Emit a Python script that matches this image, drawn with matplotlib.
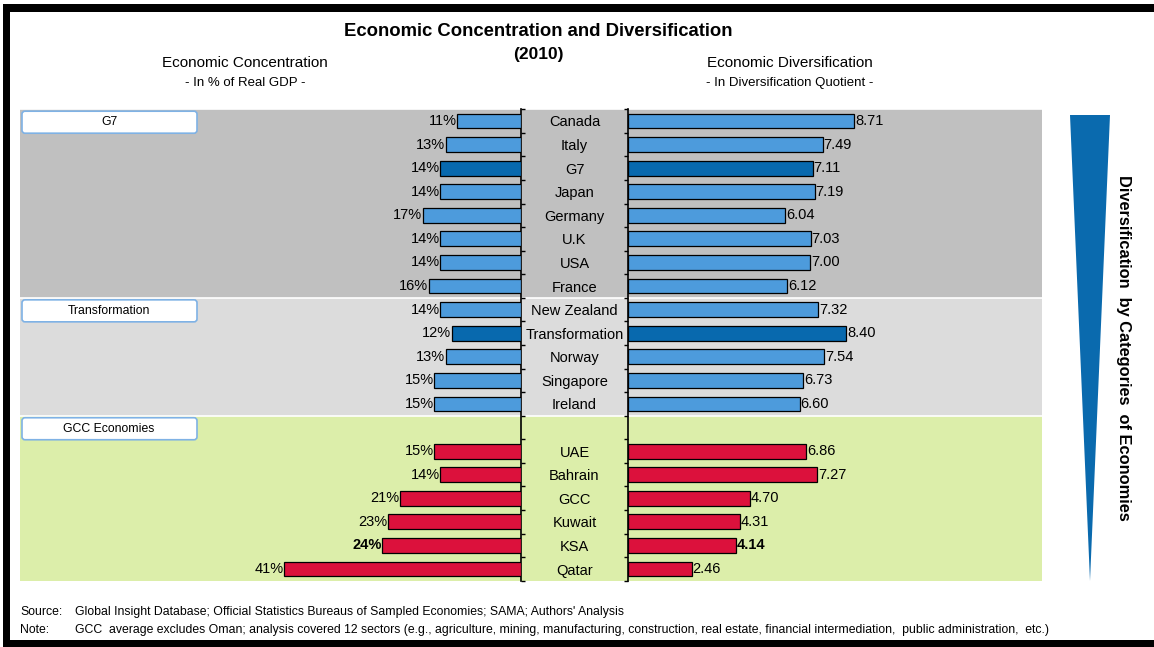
import matplotlib
matplotlib.use("Agg")
import matplotlib.pyplot as plt
from matplotlib.patches import Rectangle, FancyBboxPatch, Polygon
import numpy as np

# values (2010)
countries = ["Canada", "Italy", "G7", "Japan", "Germany", "U.K", "USA", "France",
             "New Zealand", "Transformation", "Norway", "Singapore", "Ireland",
             "UAE", "Bahrain", "GCC", "Kuwait", "KSA", "Qatar"]
concentration = [11, 13, 14, 14, 17, 14, 14, 16,
                 14, 12, 13, 15, 15,
                 15, 14, 21, 23, 24, 41]
diversification = [8.71, 7.49, 7.11, 7.19, 6.04, 7.03, 7.00, 6.12,
                   7.32, 8.40, 7.54, 6.73, 6.60,
                   6.86, 7.27, 4.70, 4.31, 4.14, 2.46]
groups = ["G7"] * 8 + ["Transformation"] * 5 + ["GCC Economies"] * 6
group_names = ["G7", "Transformation", "GCC Economies"]
averages = ["G7", "Transformation"]
bold_rows = ["KSA"]

LIGHT_BLUE = "#4D9BDC"
DARK_BLUE = "#0869AE"
RED = "#DC113C"
BAND = {"G7": "#C0C0C0", "Transformation": "#DCDCDC", "GCC Economies": "#DCEEAA"}
plt.rcParams["font.family"] = ["Liberation Sans", "DejaVu Sans"]

W, H = 1154, 647
fig = plt.figure(figsize=(W / 100, H / 100), dpi=100)

# pixel-space canvas for decorations
bg = fig.add_axes([0, 0, 1, 1])
bg.set_xlim(0, W)
bg.set_ylim(H, 0)
bg.axis("off")

# row positions: the GCC block has one empty row for its label box
rows = []
r = 0
prev = None
for g in groups:
    if g != prev and g == "GCC Economies":
        r += 1
    rows.append(r)
    prev = g
    r += 1
n_rows = r

TOP, ROW_H = 109.2, 23.58
BOT = TOP + n_rows * ROW_H
X0, XL, XR, X1 = 20, 521, 628, 1042


def py(row):
    return TOP + (row + 0.5) * ROW_H


# outer frame
bg.add_patch(Rectangle((3, 4), W, 8, color="black", lw=0))
bg.add_patch(Rectangle((3, 4), 7, H, color="black", lw=0))
bg.add_patch(Rectangle((3, 640), W, 8, color="black", lw=0))

# group bands and label boxes
for gname in group_names:
    idx = [i for i, g in enumerate(groups) if g == gname]
    first = rows[idx[0]] if gname != "GCC Economies" else rows[idx[0]] - 1
    last = rows[idx[-1]]
    y0 = TOP + first * ROW_H
    y1 = TOP + (last + 1) * ROW_H
    bg.add_patch(Rectangle((X0, y0), X1 - X0, y1 - y0, color=BAND[gname], lw=0, zorder=0))
    bg.plot([X0, X1], [y0, y0], color="white", lw=1.2, zorder=0.5)
    bg.add_patch(FancyBboxPatch((X0 + 2, y0 + 2), 175, 22,
                                boxstyle="round,pad=0,rounding_size=3",
                                fc="white", ec="#7FB2E5", lw=1.2, zorder=2))
    bg.text(X0 + 89, y0 + 13, gname, ha="center", va="center", fontsize=8.8, zorder=3)

# titles
bg.text(538, 32, "Economic Concentration and Diversification", ha="center", va="center",
        fontsize=13.3, fontweight="bold")
bg.text(538, 54, "(2010)", ha="center", va="center", fontsize=12.5, fontweight="bold")
bg.text(245, 63, "Economic Concentration", ha="center", va="center", fontsize=11)
bg.text(245, 83, "- In % of Real GDP -", ha="center", va="center", fontsize=9.5)
bg.text(790, 63, "Economic Diversification", ha="center", va="center", fontsize=11)
bg.text(790, 83, "- In Diversification Quotient -", ha="center", va="center", fontsize=9.5)

# wedge on the right
bg.add_patch(Polygon([(1070, 115), (1110, 115), (1090, 581)], closed=True,
                     fc="#0A6AAE", ec="none"))
bg.text(1124, 348, "Diversification  by Categories  of Economies", rotation=-90,
        ha="center", va="center", fontsize=11.8, fontweight="bold")

# footer
bg.text(20, 612, "Source:", ha="left", va="center", fontsize=8.8)
bg.text(75, 612, "Global Insight Database; Official Statistics Bureaus of Sampled Economies; "
        "SAMA; Authors' Analysis", ha="left", va="center", fontsize=8.8)
bg.text(20, 630, "Note:", ha="left", va="center", fontsize=8.8)
bg.text(75, 630, "GCC  average excludes Oman; analysis covered 12 sectors (e.g., agriculture, "
        "mining, manufacturing, construction, real estate, financial intermediation,  "
        "public administration,  etc.)", ha="left", va="center", fontsize=8.8)

# country labels in the middle column
for c, rr in zip(countries, rows):
    bg.text((XL + XR) / 2, py(rr) + 1.5, c, ha="center", va="center", fontsize=10.5)


def colour(c, g):
    if g == "GCC Economies":
        return RED
    return DARK_BLUE if c in averages else LIGHT_BLUE


cols = [colour(c, g) for c, g in zip(countries, groups)]

# left panel: concentration
axl = fig.add_axes([X0 / W, 1 - BOT / H, (XL - X0) / W, (BOT - TOP) / H])
axl.patch.set_alpha(0)
axl.barh(rows, concentration, height=0.63, color=cols, edgecolor="black", lw=0.9, zorder=3)
axl.set_xlim((XL - X0) / 5.78, 0)
axl.set_ylim(n_rows - 0.5, -0.5)
for c, v, rr in zip(countries, concentration, rows):
    axl.text(v + 0.1, rr, f"{v}%", ha="right", va="center", fontsize=10.5,
             fontweight="bold" if c in bold_rows else "normal")
for s in ["left", "top", "bottom"]:
    axl.spines[s].set_visible(False)
axl.spines["right"].set_linewidth(1.2)
axl.yaxis.tick_right()
axl.set_yticks(np.arange(-0.5, n_rows, 1))
axl.set_yticklabels([])
axl.tick_params(axis="y", direction="out", length=3, width=1)
axl.set_xticks([])

# right panel: diversification
axr = fig.add_axes([XR / W, 1 - BOT / H, (X1 - XR) / W, (BOT - TOP) / H])
axr.patch.set_alpha(0)
axr.barh(rows, diversification, height=0.63, color=cols, edgecolor="black", lw=0.9, zorder=3)
axr.set_xlim(0, (X1 - XR) / 26.0)
axr.set_ylim(n_rows - 0.5, -0.5)
for c, v, rr in zip(countries, diversification, rows):
    axr.text(v + 0.03, rr, f"{v:.2f}", ha="left", va="center", fontsize=10.5,
             fontweight="bold" if c in bold_rows else "normal")
for s in ["right", "top", "bottom"]:
    axr.spines[s].set_visible(False)
axr.spines["left"].set_linewidth(1.2)
axr.set_yticks(np.arange(-0.5, n_rows, 1))
axr.set_yticklabels([])
axr.tick_params(axis="y", direction="out", length=3, width=1)
axr.set_xticks([])

fig.savefig("out.png", dpi=100)
